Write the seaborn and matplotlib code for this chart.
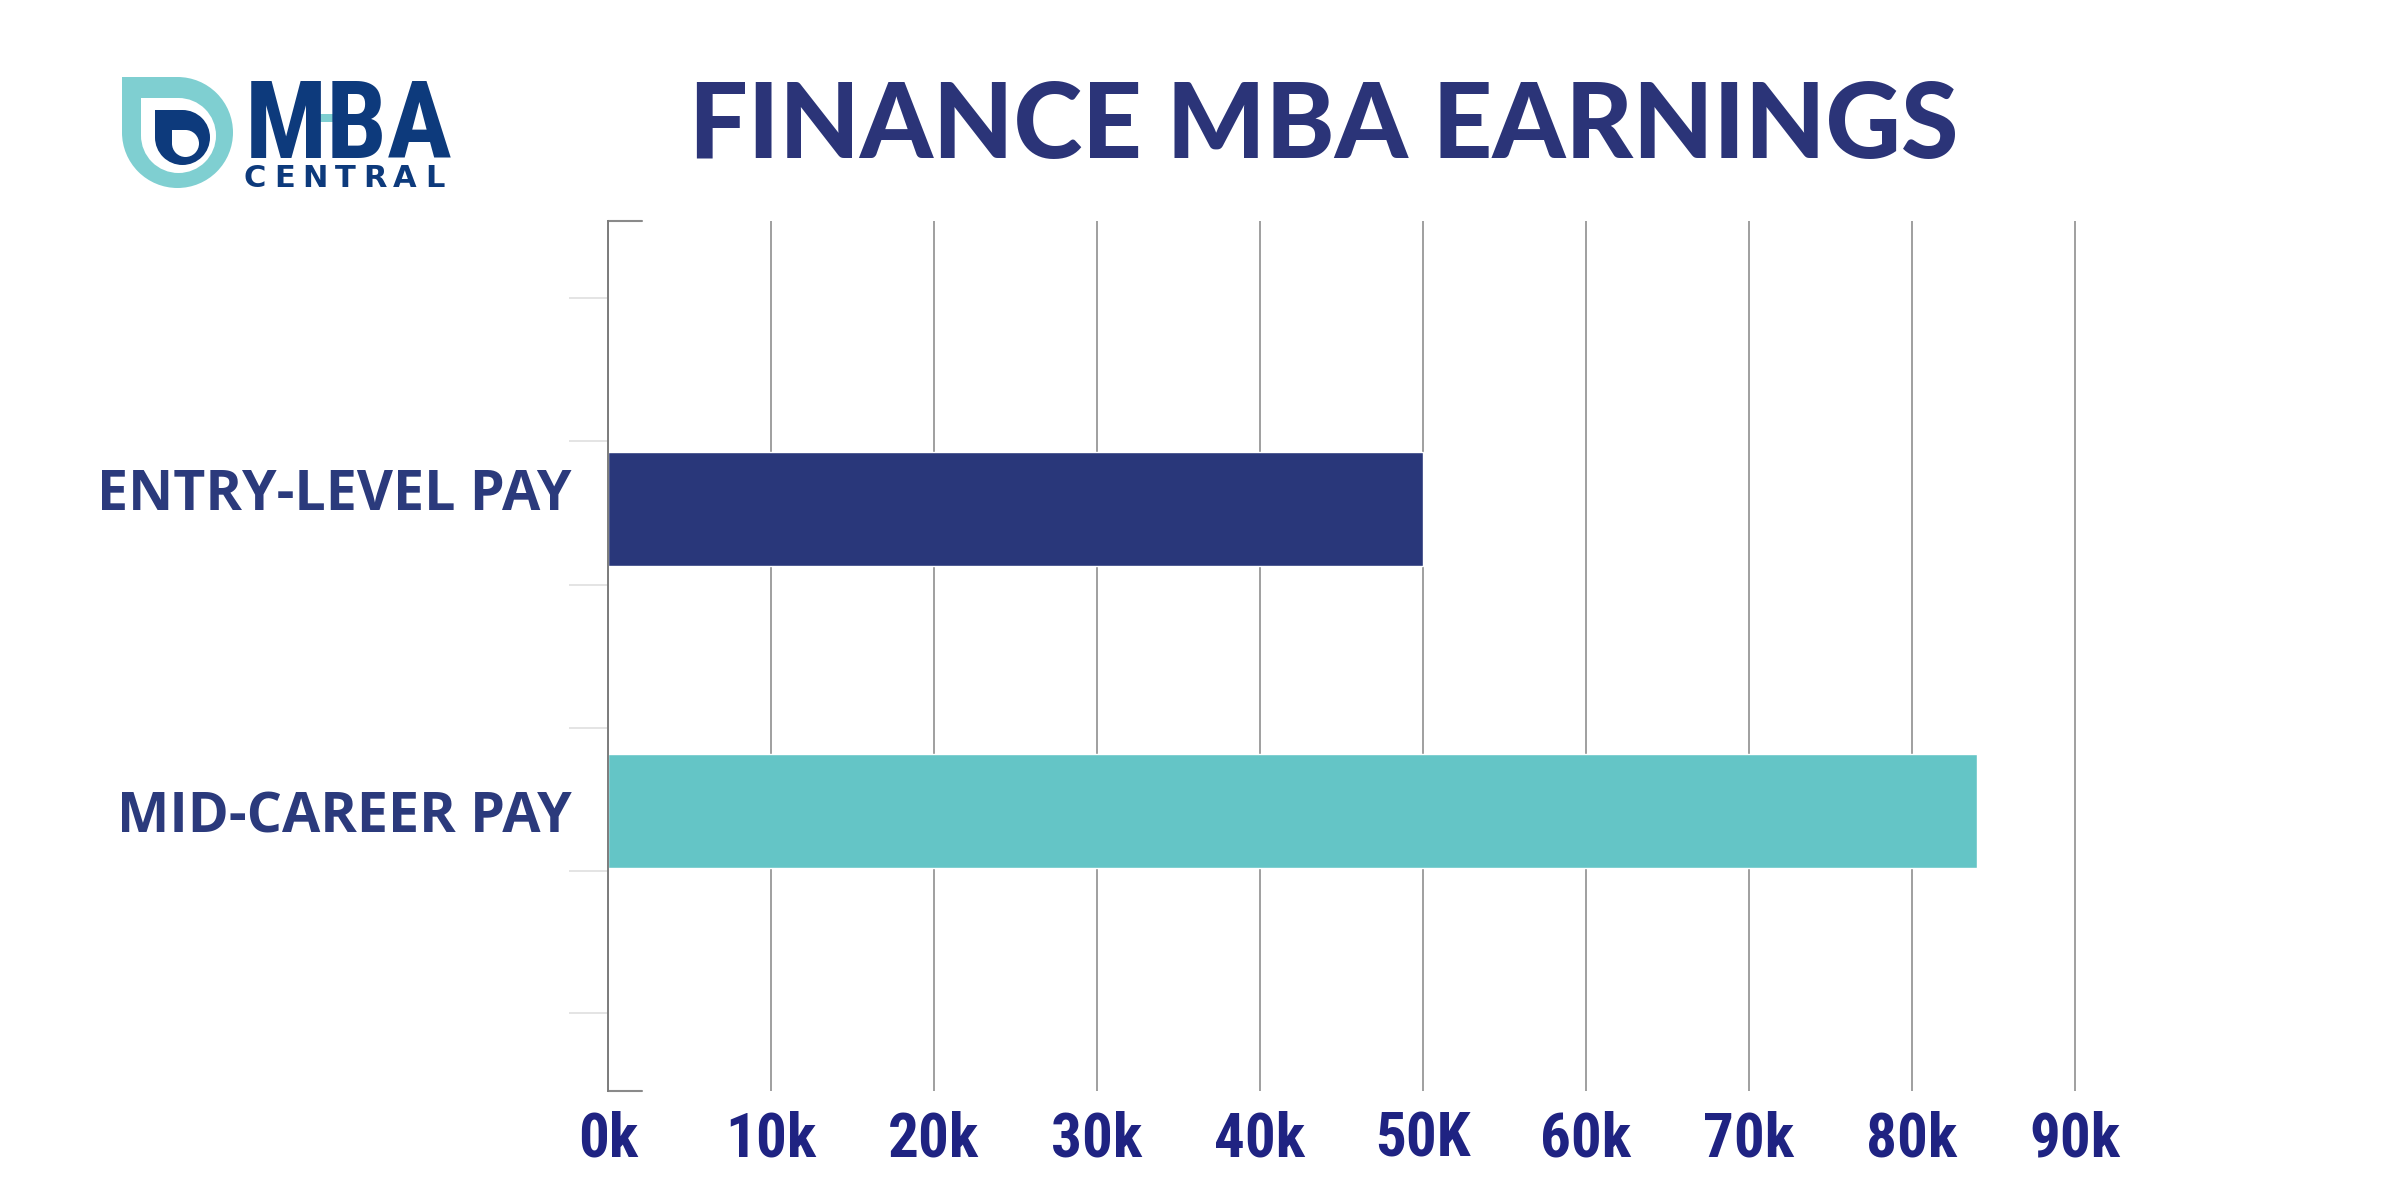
import matplotlib
matplotlib.use('Agg')
import matplotlib.pyplot as plt
import matplotlib.font_manager as fm
from matplotlib.patches import Circle, Rectangle
from matplotlib.transforms import ScaledTranslation
import seaborn as sns
import pandas as pd

# chart data
categories = ['ENTRY-LEVEL PAY', 'MID-CAREER PAY']
pay = [50000, 84000]
bar_colors = ['#29377a', '#64c5c6']
xtick_vals = [0, 10000, 20000, 30000, 40000, 50000, 60000, 70000, 80000, 90000]
xtick_labels = ['0k', '10k', '20k', '30k', '40k', '50K', '60k', '70k', '80k', '90k']
minor_y = [-0.70, -0.225, 0.25, 0.725, 1.20, 1.67]
title = 'FINANCE MBA EARNINGS'


def pick(*names):
    for n in names:
        try:
            fm.findfont(fm.FontProperties(family=n), fallback_to_default=False)
            return n
        except ValueError:
            pass
    return 'DejaVu Sans'


narrow = pick('Roboto Condensed', 'Liberation Sans Narrow', 'Open Sans')
heavy = pick('Lato', 'Open Sans', 'DejaVu Sans')
label_font = pick('Open Sans', 'Noto Sans', 'DejaVu Sans')

sns.set_theme(style='white')
plt.rcParams['font.family'] = ['DejaVu Sans']

df = pd.DataFrame({'category': categories, 'pay': pay})

fig = plt.figure(figsize=(24, 12), dpi=100)
ax = fig.add_axes([608 / 2400, 1 - 1091 / 1200, (2083 - 608) / 2400, (1091 - 221) / 1200])

sns.barplot(data=df, x='pay', y='category', hue='category', palette=bar_colors,
            orient='h', width=0.38, saturation=1, legend=False, ax=ax)

ax.set_xlim(0, 90500)
ax.set_ylim(1.927, -0.954)
ax.set_xlabel('')
ax.set_ylabel('')

ax.set_axisbelow(True)
ax.xaxis.grid(True, color='#858585', lw=1.1)
ax.yaxis.grid(False)
for s in ['top', 'right', 'bottom']:
    ax.spines[s].set_visible(False)
ax.spines['left'].set_color('#7c7c7c')
ax.spines['left'].set_linewidth(1.4)

ax.set_xticks(xtick_vals, labels=xtick_labels)
ax.tick_params(axis='x', length=0, pad=14, labelsize=44, labelcolor='#1f2382')
for t in ax.get_xticklabels():
    t.set_fontfamily(narrow)
    t.set_fontweight('bold')

ax.tick_params(axis='y', which='major', length=0, pad=26, labelsize=40, labelcolor='#2b3a7c')
for t in ax.get_yticklabels():
    t.set_fontfamily(label_font)
    t.set_fontweight('bold')
# the entry-level label sits a little above its bar in the original
first = ax.get_yticklabels()[0]
first.set_transform(first.get_transform() + ScaledTranslation(0, 0.2, fig.dpi_scale_trans))

ax.set_yticks(minor_y, minor=True)
ax.tick_params(axis='y', which='minor', length=28, width=1.3, color='#e2e2e2', left=True)

# little end caps on the value axis
for yy in ax.get_ylim():
    ax.axhline(yy, xmin=0, xmax=34 / 1475, color='#8a8a8a', lw=1.5, clip_on=False)

fig.text(1324 / 2400, 1 - 158 / 1200, title, ha='center', va='baseline',
         fontsize=75, fontweight='black', family=heavy, color='#2b3478')

# logo
lax = fig.add_axes([115 / 2400, 1 - 195 / 1200, 335 / 2400, 125 / 1200])
lax.set_xlim(0, 335)
lax.set_ylim(0, 125)
lax.axis('off')


def drop(x0, y0, s, color):
    lax.add_patch(Circle((x0 + s / 2, y0 + s / 2), s / 2, color=color, lw=0))
    lax.add_patch(Rectangle((x0, y0 + s / 2), s / 2, s / 2, color=color, lw=0))


drop(7, 7, 111, '#7fcfd1')
drop(26, 22, 75, 'white')
drop(40, 30, 55, '#0d3a7c')
drop(57, 38, 27, 'white')

lax.text(130, 37, 'MBA', ha='left', va='baseline', fontsize=78, fontweight='black',
         family=narrow, color='#0d3a7c')
lax.add_patch(Rectangle((205, 73), 27, 8, color='#7fcfd1', lw=0))
for i, ch in enumerate('CENTRAL'):
    lax.text(140 + i * 30, 8, ch, ha='center', va='baseline', fontsize=22,
             fontweight='bold', family='DejaVu Sans', color='#0d3a7c')

fig.savefig('out.png', dpi=100, facecolor='white')
